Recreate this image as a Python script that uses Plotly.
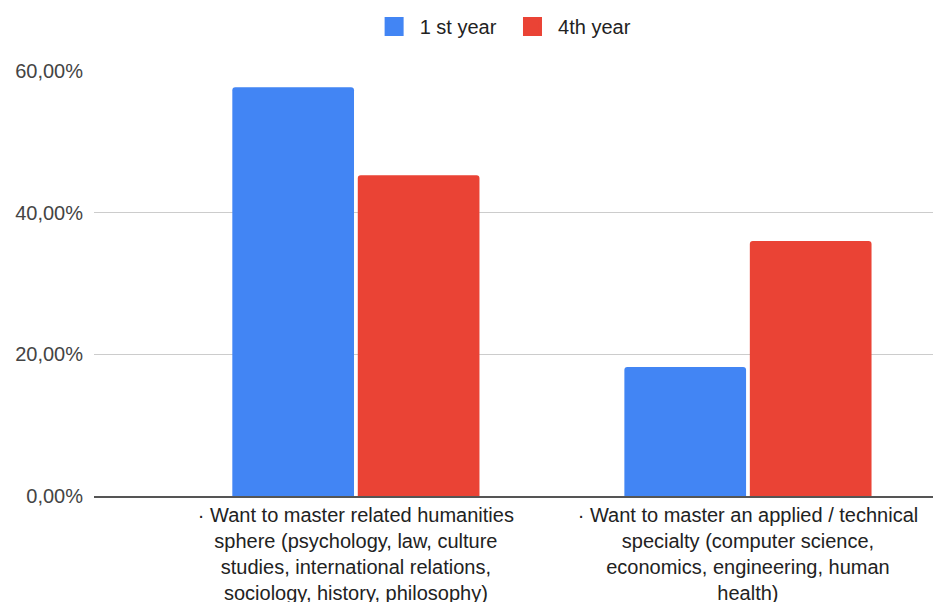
import plotly.graph_objects as go

# Survey answers (share of respondents) by study year
categories = [
    "· Want to master related humanities<br>sphere (psychology, law, culture<br>studies, international relations,<br>sociology, history, philosophy)",
    "· Want to master an applied / technical<br>specialty (computer science,<br>economics, engineering, human<br>health)",
]
series_names = ["1 st year", "4th year"]
first_year = [0.577, 0.182]
fourth_year = [0.453, 0.360]
colors = ["#4285F4", "#EA4335"]
y_ticks = [0, 0.2, 0.4, 0.6]

FONT = "Liberation Sans, Arial, sans-serif"
NBSP = "\u00a0"

fig = go.Figure()
for i, (name, vals, col) in enumerate(zip(series_names, [first_year, fourth_year], colors)):
    fig.add_trace(go.Bar(
        x=categories, y=vals, name=name, marker=dict(color=col, line=dict(width=0)),
        showlegend=False, hoverinfo="y",
    ))
    # legend swatch (larger square than the default bar symbol), with a bit of padding
    label = NBSP + name + (NBSP * 2 if i == 0 else "")
    fig.add_trace(go.Scatter(
        x=[None], y=[None], mode="markers", name=label,
        marker=dict(symbol="square", size=16, color=col, line=dict(color=col, width=3)),
        showlegend=True,
    ))

fig.update_layout(
    width=933, height=602,
    margin=dict(l=94, r=0, t=71, b=106),
    paper_bgcolor="white", plot_bgcolor="white",
    separators=",.",
    barmode="group", bargap=0.36, bargroupgap=0.03, barcornerradius=3,
    font=dict(family=FONT, size=20, color="#222222"),
    legend=dict(
        orientation="h", x=0.49, xanchor="center", y=1.105, yanchor="middle",
        font=dict(family=FONT, size=20, color="#222222"),
        itemsizing="trace",
    ),
    xaxis=dict(
        type="category", range=[-0.668, 1.472],
        showgrid=False, showline=True, linecolor="#555555", linewidth=1.5,
        ticks="", tickfont=dict(family=FONT, size=20, color="#222222"),
        automargin=False,
        fixedrange=True,
    ),
    yaxis=dict(
        range=[0, 0.6], tickvals=y_ticks, tickformat=".2%",
        showgrid=True, gridcolor="#CCCCCC", gridwidth=1,
        zeroline=False, showline=False, ticks="",
        tickfont=dict(family=FONT, size=20, color="#444444"),
        ticklabelstandoff=10, automargin=False,
        fixedrange=True,
    ),
)

fig.write_html("out.html")
